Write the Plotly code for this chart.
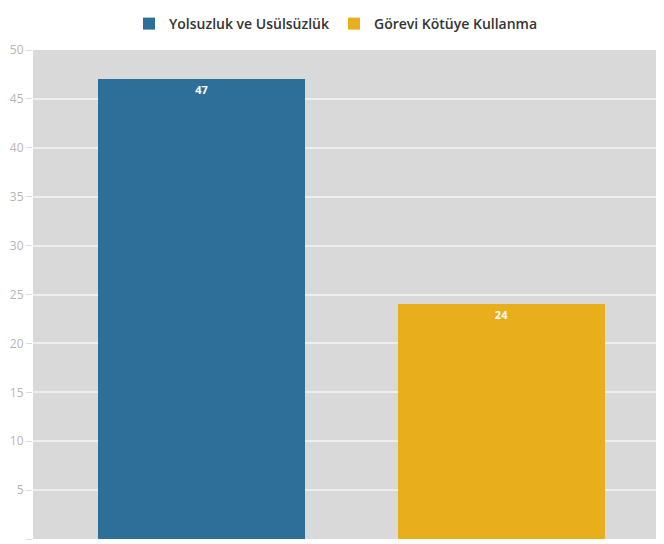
import plotly.graph_objects as go

categories = ["Yolsuzluk ve Usülsüzlük", "Görevi Kötüye Kullanma"]
values = [47, 24]
colors = ["#2e6f9a", "#e8ae1c"]
y_ticks = [0, 5, 10, 15, 20, 25, 30, 35, 40, 45, 50]

fig = go.Figure()
for cat, val, col in zip(categories, values, colors):
    fig.add_trace(go.Bar(
        x=[cat], y=[val], name=cat, marker_color=col, marker_line_width=0,
        width=0.69, text=[str(val)], textposition="inside", insidetextanchor="end",
        textfont=dict(color="white", size=11, family="Open Sans", weight="bold"),
        textangle=0,
    ))

fig.update_layout(
    width=656, height=536,
    margin=dict(l=25, r=0, t=42, b=5),
    paper_bgcolor="white", plot_bgcolor="#d9d9d9",
    barmode="overlay", bargap=0,
    showlegend=True,
    legend=dict(orientation="h", x=0.5, xanchor="center", xref="container",
                y=1.0, yanchor="top", yref="container",
                font=dict(family="Open Sans", size=14, color="#333333", weight=600),
                itemwidth=30, traceorder="normal"),
    font=dict(family="Open Sans"),
)
fig.update_xaxes(type="category", range=[-0.5617, 1.5417], showticklabels=False,
                 showgrid=False, zeroline=False, ticks="")
fig.update_yaxes(range=[0, 50], tickvals=y_ticks, gridcolor="#eeeeee", gridwidth=2,
                 ticks="outside", ticklen=6, tickcolor="#dddddd",
                 tickfont=dict(color="#b5b5b5", size=12, family="Open Sans"),
                 zeroline=False, showline=False)
fig.write_html("out.html")
